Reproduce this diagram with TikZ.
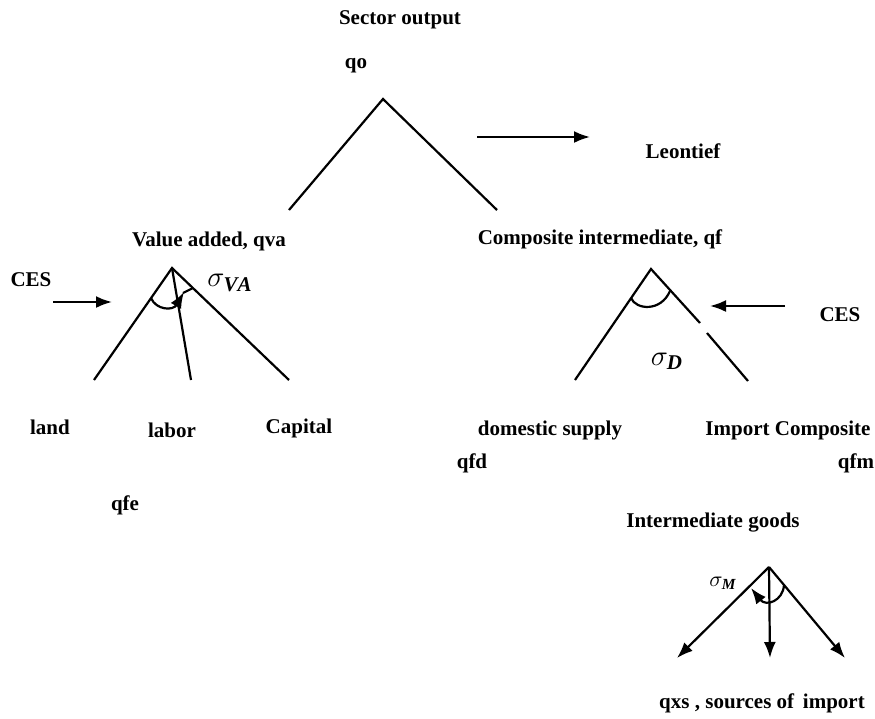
\documentclass[tikz,border=0pt]{standalone}
\usepackage{amsmath,amssymb}
\usepackage{fontspec}
\setmainfont{Liberation Serif}
\usepackage{tikz}
\usetikzlibrary{arrows.meta}

\begin{document}
\begin{tikzpicture}[x=0.5pt,y=-0.5pt,every node/.style={font=\fontsize{10.5}{13}\selectfont\bfseries},
 leg/.style={line width=1.1pt},
 tip/.style={-{Latex[length=8pt,width=6pt]},line width=1.1pt},
 sig/.style={font=\fontsize{15}{17}\selectfont}]
\useasboundingbox (0,0) rectangle (875,719);
% texts
\node (sector) at (400,20) {Sector output};
\node (qo) at (356,66) {qo};
\node (leontief) at (683,151) {Leontief};
\node (va) at (209,241) {Value added, qva};
\node (cf) at (600,239) {Composite intermediate, qf};
\node (cesL) at (31,280) {CES};
\node (cesR) at (840,315) {CES};
\foreach \n/\x/\y/\txt in {land/50/427/land,labor/172/430/labor,capital/299/428/Capital,qfe/125/505/qfe,
 dom/550/430/domestic supply,imp/788/430/Import Composite,qfd/472/463/qfd,qfm/856/463/qfm,
 goods/713/523/Intermediate goods}
 \node (\n) at (\x,\y) {\txt};
\node (qxs) at (762,703) {qxs , sources of\, import};
\node[sig] (sigVA) at (230,283) {$\sigma_{\boldsymbol{\mathit{VA}}}$};
\node[sig] (sigD) at (667,361) {$\sigma_{\boldsymbol{\mathit{D}}}$};
\node[sig,font=\fontsize{11}{13}\selectfont] (sigM) at (723,583) {$\sigma_{\boldsymbol{\mathit{M}}}$};
% top nest: Leontief
\coordinate (top) at (383,99);
\coordinate (topL) at (289,210);
\coordinate (topR) at (497,210);
\draw[leg] (topL)--(top)--(topR);
\coordinate (leoA) at (477,137);
\coordinate (leoB) at (590,137);
\draw[tip] (leoA)--(leoB);
% value added nest
\coordinate (vaTop) at (172,268);
\coordinate (vaL) at (94,380);
\coordinate (vaM) at (191,380);
\coordinate (vaR) at (289,380);
\draw[leg] (vaL)--(vaTop)--(vaR);
\draw[leg] (vaTop)--(vaM);
\draw[tip] (151,298) .. controls (156,310) and (173,311) .. (184,292);
\draw[leg] (183,293)--(193,288);
\coordinate (cesLA) at (53,302);
\coordinate (cesLB) at (112,302);
\draw[tip] (cesLA)--(cesLB);
% composite intermediate nest
\coordinate (cfTop) at (651,269);
\coordinate (cfL) at (575,380);
\coordinate (cfR) at (748,381);
\coordinate (cfGapA) at (700,323);
\coordinate (cfGapB) at (707,333);
\draw[leg] (cfL)--(cfTop)--(cfGapA);
\draw[leg] (cfGapB)--(cfR);
\draw[leg] (631,298) .. controls (636,310) and (661,312) .. (670,291);
\coordinate (cesRA) at (785,306);
\coordinate (cesRB) at (710,306);
\draw[tip] (cesRA)--(cesRB);
% import sources nest
\coordinate (mTop) at (769,567);
\coordinate (mL) at (677,658);
\coordinate (mM) at (770,658);
\coordinate (mR) at (845,658);
\draw[tip] (mTop)--(mL);
\draw[tip] (mTop)--(mM);
\draw[tip] (mTop)--(mR);
\draw[tip] (784,585) .. controls (783,601) and (766,607) .. (751,588);
\end{tikzpicture}
\end{document}
